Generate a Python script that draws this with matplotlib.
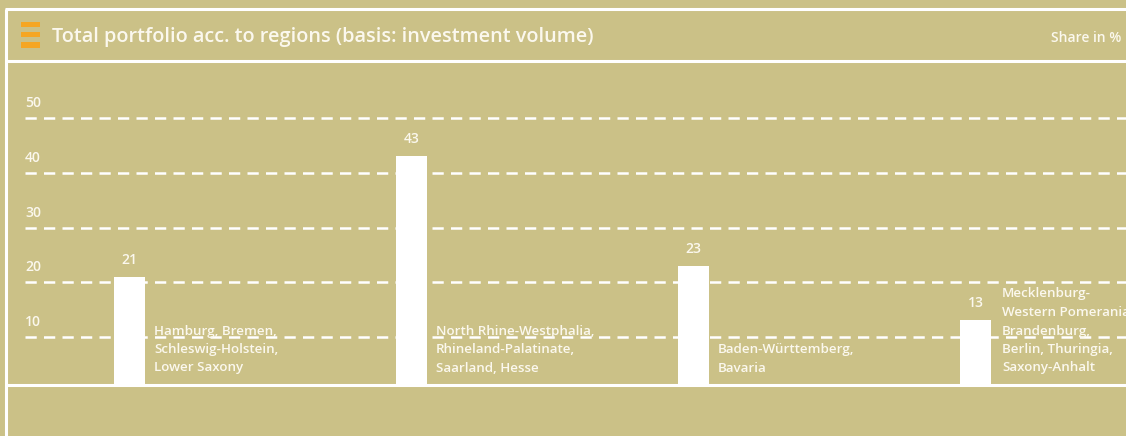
import matplotlib
matplotlib.use("Agg")
import matplotlib.pyplot as plt
from matplotlib.transforms import blended_transform_factory
from matplotlib.patches import Rectangle
from matplotlib.lines import Line2D

# ---- data ----
categories = [
    "Hamburg, Bremen,\nSchleswig-Holstein,\nLower Saxony",
    "North Rhine-Westphalia,\nRhineland-Palatinate,\nSaarland, Hesse",
    "Baden-Württemberg,\nBavaria",
    "Mecklenburg-\nWestern Pomerania,\nBrandenburg,\nBerlin, Thuringia,\nSaxony-Anhalt",
]
values = [21, 43, 23, 13]
yticks = [10, 20, 30, 40, 50]
title = "Total portfolio acc. to regions (basis: investment volume)"
unit_label = "Share in %"

# ---- style ----
BG = "#CBC187"
WHITE = "#FFFFFF"
TXT = "#FBF8EE"
ORANGE = "#F5A623"
FONT = "Open Sans"

W, H = 1126, 436
fig = plt.figure(figsize=(W / 100, H / 100), dpi=100, facecolor=BG)

def px(x0, y0, x1, y1):
    return [x0 / W, 1 - y1 / H, (x1 - x0) / W, (y1 - y0) / H]

def fline(xs, ys, lw=2.2):
    fig.add_artist(Line2D([x / W for x in xs], [1 - y / H for y in ys],
                          color=WHITE, lw=lw, solid_capstyle="butt"))

fline([5, W], [9, 9])
fline([5.5, 5.5], [9, H])
fline([5, W], [61.5, 61.5])
fline([5, W], [384.5, 384.5])

# orange icon
for (y0, y1) in [(22, 27.5), (32, 37.5), (42.5, 48)]:
    fig.add_artist(Rectangle((21 / W, 1 - y1 / H), 19 / W, (y1 - y0) / H,
                             transform=fig.transFigure, color=ORANGE, lw=0))

fig.text(52 / W, 1 - 37 / H, title, color=TXT, fontsize=14.3, fontweight="semibold",
         family=FONT, va="center", ha="left")
fig.text(1121 / W, 1 - 38 / H, unit_label, color=TXT, fontsize=10, fontweight="semibold",
         family=FONT, va="center", ha="right")

# ---- axes ----
ax = fig.add_axes(px(6, 62.5, W, 383.5))
ax.set_facecolor("none")
ax.set_xlim(-0.438, -0.438 + 1120 / 282)
ax.set_ylim(1.45, 60.2)
ax.axis("off")

x = list(range(len(values)))
bw = 31 / 282
ax.bar(x, values, width=bw, color=WHITE, zorder=3, clip_on=True)

xfrac = (25 - 6) / 1120
tr = blended_transform_factory(ax.transAxes, ax.transData)
for t in yticks:
    ax.axhline(t, xmin=xfrac, xmax=1, color=WHITE, lw=1.8, dashes=(4.5, 2.9), zorder=2)
    ax.annotate(str(t), xy=(xfrac, t), xycoords=tr, xytext=(0, 8), textcoords="offset pixels",
                color=TXT, fontsize=10, fontweight="semibold", family=FONT,
                ha="left", va="bottom")

for i, (xi, v, lab) in enumerate(zip(x, values, categories)):
    ax.annotate(str(v), xy=(xi, v), xytext=(0, 10), textcoords="offset pixels",
                color=TXT, fontsize=10, fontweight="semibold", family=FONT,
                ha="center", va="bottom")
    dx = 11 if i == len(values) - 1 else 9
    ax.annotate(lab, xy=(xi + bw / 2, 1.45), xytext=(dx, 9), textcoords="offset pixels",
                color=TXT, fontsize=9.6, fontweight="semibold", family=FONT,
                ha="left", va="bottom", linespacing=1.55, zorder=4)

fig.savefig("out.png", dpi=100, facecolor=BG)
